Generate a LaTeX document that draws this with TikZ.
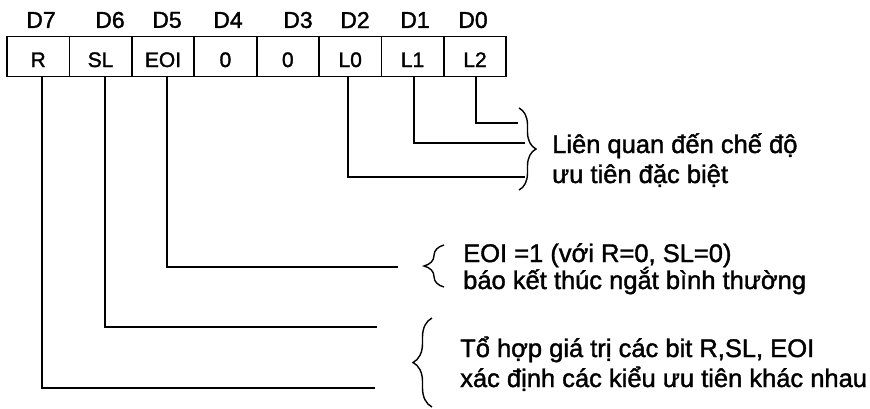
\documentclass[tikz,border=0pt]{standalone}
\usepackage{fontspec}
\setmainfont{Liberation Sans}[RawFeature={embolden=1.5}]
\usetikzlibrary{decorations.pathreplacing}
\begin{document}
\begin{tikzpicture}[x=1pt,y=-1pt,
  bitcell/.style={draw, line width=1.8pt, minimum width=62.4pt, minimum height=40pt,
    inner sep=0pt, outer sep=0pt, text height=21pt, text depth=0pt,
    font=\fontsize{21}{21}\selectfont},
  bitname/.style={font=\fontsize{23}{23}\selectfont, inner sep=0pt},
  wire/.style={line width=1.9pt},
  note/.style={font=\fontsize{25.5}{26}\selectfont, anchor=base west, inner sep=0pt},
  curly/.style={decorate, line width=1.4pt, decoration={brace, amplitude=#1}},
]
\useasboundingbox (0,0) rectangle (870,408);

% register cells, D7 ... D0
\node[bitcell] (c7) at (38.2,56.5) {R};
\node[bitcell] (c6) at (100.6,56.5) {SL};
\node[bitcell] (c5) at (163,56.5) {EOI};
\node[bitcell] (c4) at (225.4,56.5) {0};
\node[bitcell] (c3) at (287.8,56.5) {0};
\node[bitcell] (c2) at (350.2,56.5) {L0};
\node[bitcell] (c1) at (412.6,56.5) {L1};
\node[bitcell] (c0) at (475,56.5) {L2};

% bit names
\node[bitname] (d7) at (41,20) {D7};
\node[bitname] (d6) at (110,20) {D6};
\node[bitname] (d5) at (167,20) {D5};
\node[bitname] (d4) at (228,20) {D4};
\node[bitname] (d3) at (298,20) {D3};
\node[bitname] (d2) at (355,20) {D2};
\node[bitname] (d1) at (415,20) {D1};
\node[bitname] (d0) at (473,20) {D0};

% free ends of the leader lines
\coordinate (e7) at (375,388);
\coordinate (e6) at (377,327);
\coordinate (e5) at (398,267);
\coordinate (e2) at (525,177);
\coordinate (e1) at (525,143);
\coordinate (e0) at (518,123);

\draw[wire] ([xshift=4pt]c7.south) |- (e7);
\draw[wire] ([xshift=4.4pt]c6.south) |- (e6);
\draw[wire] ([xshift=4pt]c5.south) |- (e5);
\draw[wire] ([xshift=-2pt]c2.south) |- (e2);
\draw[wire] ([xshift=1.4pt]c1.south) |- (e1);
\draw[wire] ([xshift=1pt]c0.south) |- (e0);

% braces
\coordinate (b1s) at (519,108);
\coordinate (b1e) at (519,190);
\draw[curly=17pt] (b1s) -- (b1e);
\coordinate (b2s) at (444,287);
\coordinate (b2e) at (444,245);
\draw[curly=20pt] (b2s) -- (b2e);
\coordinate (b3s) at (432,407);
\coordinate (b3e) at (432,318);
\draw[curly=19pt] (b3s) -- (b3e);

% notes, one node per line
\node[note] (n1a) at (552,153) {Liên quan đến chế độ};
\node[note] (n1b) at (552,183) {ưu tiên đặc biệt};
\node[note] (n2a) at (463,262) {EOI =1 (với R=0, SL=0)};
\node[note] (n2b) at (463,289) {báo kết thúc ngắt bình thường};
\node[note] (n3a) at (460,357) {Tổ hợp giá trị các bit R,SL, EOI};
\node[note] (n3b) at (460,387) {xác định các kiểu ưu tiên khác nhau};
\end{tikzpicture}
\end{document}
